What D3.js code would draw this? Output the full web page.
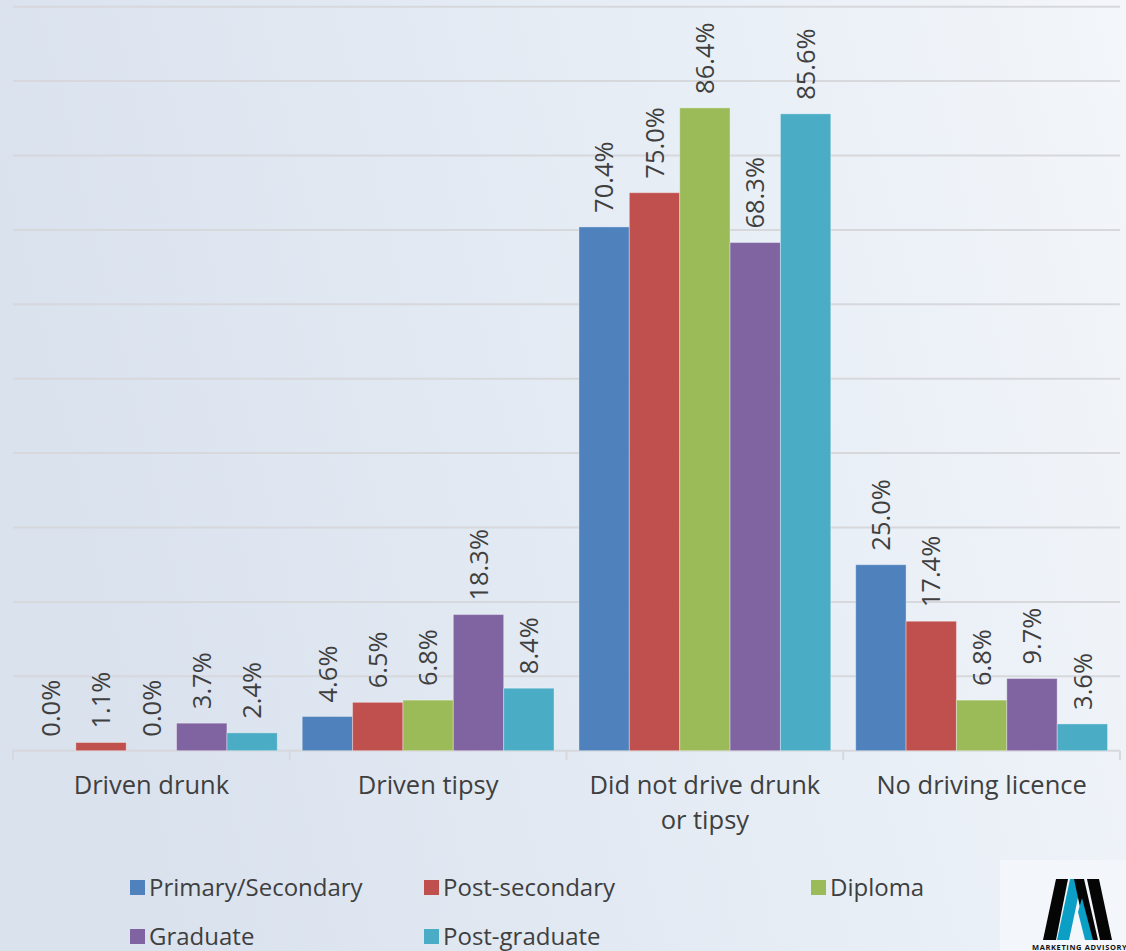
<!DOCTYPE html>
<html>
<head>
<meta charset="utf-8">
<script src="https://cdn.jsdelivr.net/npm/d3@7"></script>
<style>
  html, body { margin: 0; padding: 0; }
  body { width: 1126px; height: 951px; overflow: hidden; }
  text { font-family: "Open Sans", "DejaVu Sans", sans-serif; fill: #3f3f3f; }
</style>
</head>
<body>
<svg id="chart" width="1126" height="951"></svg>
<script>
const categories = ["Driven drunk", "Driven tipsy", "Did not drive drunk|or tipsy", "No driving licence"];
const seriesNames = ["Primary/Secondary", "Post-secondary", "Diploma", "Graduate", "Post-graduate"];
const seriesColors = ["#4f81bd", "#c0504d", "#9bbb59", "#8064a2", "#4bacc6"];
const primarySecondary = [0.0, 4.6, 70.4, 25.0];
const postSecondary = [1.1, 6.5, 75.0, 17.4];
const diploma = [0.0, 6.8, 86.4, 6.8];
const graduate = [3.7, 18.3, 68.3, 9.7];
const postGraduate = [2.4, 8.4, 85.6, 3.6];
const yTicks = [0, 10, 20, 30, 40, 50, 60, 70, 80, 90, 100];

const seriesValues = [primarySecondary, postSecondary, diploma, graduate, postGraduate];

const svg = d3.select("#chart");
const W = 1126, H = 951;

// background gradient
const defs = svg.append("defs");
const grad = defs.append("linearGradient").attr("id", "bg")
  .attr("x1", "0").attr("y1", "0.2").attr("x2", "1").attr("y2", "0");
grad.append("stop").attr("offset", "0").attr("stop-color", "#dae2ee");
grad.append("stop").attr("offset", "0.55").attr("stop-color", "#e6edf5");
grad.append("stop").attr("offset", "1").attr("stop-color", "#f3f6fa");
svg.append("rect").attr("width", W).attr("height", H).attr("fill", "url(#bg)");

const plotLeft = 13, plotRight = 1120, yTop = 6.7, yBase = 750.7;

const y = d3.scaleLinear().domain([0, 100]).range([yBase, yTop]);
const x0 = d3.scaleBand().domain(categories).range([plotLeft, plotRight]).padding(0);
const x1 = d3.scaleBand().domain(seriesNames)
  .range([x0.bandwidth() * 0.045, x0.bandwidth() * 0.955]).padding(0);

// gridlines
svg.append("g").selectAll("line").data(yTicks.filter(d => d > 0)).join("line")
  .attr("x1", plotLeft).attr("x2", plotRight)
  .attr("y1", d => y(d)).attr("y2", d => y(d))
  .attr("stroke", "#d6d8dc").attr("stroke-width", 2);

// x axis line and ticks
const axisG = svg.append("g");
axisG.append("line").attr("x1", plotLeft).attr("x2", plotRight)
  .attr("y1", yBase).attr("y2", yBase).attr("stroke", "#d6d8dc").attr("stroke-width", 2);
const tickXs = categories.map(c => x0(c)).concat([x0(categories[categories.length - 1]) + x0.bandwidth()]);
axisG.selectAll("line.tick").data(tickXs).join("line").attr("class", "tick")
  .attr("x1", d => d).attr("x2", d => d)
  .attr("y1", yBase).attr("y2", yBase + 9)
  .attr("stroke", "#d6d8dc").attr("stroke-width", 2);

// bars
const groups = svg.append("g").selectAll("g").data(categories).join("g")
  .attr("transform", c => `translate(${x0(c)},0)`);

groups.each(function(c, ci) {
  const g = d3.select(this);
  const data = seriesNames.map((s, si) => ({ s, si, v: seriesValues[si][ci] }));
  g.selectAll("rect").data(data).join("rect")
    .attr("x", d => x1(d.s))
    .attr("y", d => y(d.v))
    .attr("width", x1.bandwidth())
    .attr("height", d => yBase - y(d.v))
    .attr("fill", d => seriesColors[d.si])
    .attr("stroke", d => d.v > 0 ? "rgba(255,255,255,0.35)" : "none")
    .attr("stroke-width", 1);
  g.selectAll("text").data(data).join("text")
    .attr("transform", d => `translate(${x1(d.s) + x1.bandwidth() / 2},${y(d.v) - 14}) rotate(-90)`)
    .attr("dy", "0.36em")
    .attr("text-anchor", "start")
    .attr("font-size", 25.5)
    .text(d => d.v.toFixed(1) + "%");
});

// category labels
const catG = svg.append("g");
categories.forEach(c => {
  const parts = c.split("|");
  parts.forEach((p, i) => {
    catG.append("text")
      .attr("x", x0(c) + x0.bandwidth() / 2)
      .attr("y", 794 + i * 35)
      .attr("text-anchor", "middle")
      .attr("font-size", 25.5)
      .text(p);
  });
});

// legend
const legendPos = [[130, 880], [424, 880], [811, 880], [130, 929], [424, 929]];
const leg = svg.append("g").selectAll("g").data(seriesNames).join("g")
  .attr("transform", (d, i) => `translate(${legendPos[i][0]},${legendPos[i][1]})`);
leg.append("rect").attr("width", 15).attr("height", 15)
  .attr("fill", (d, i) => seriesColors[i]);
leg.append("text").attr("x", 19).attr("y", 15.5).attr("font-size", 24).text(d => d);

// logo
const logo = svg.append("g");
logo.append("rect").attr("x", 1000).attr("y", 860).attr("width", 126).attr("height", 91).attr("fill", "#f3f6fa");
logo.append("polygon").attr("points", "1043,940 1056,940 1068,879 1056,879").attr("fill", "#050505");
logo.append("polygon").attr("points", "1057,940 1069,940 1082,879 1070,879").attr("fill", "#0b9fc6");
logo.append("polygon").attr("points", "1074,879 1084,879 1098,940 1087,940").attr("fill", "#050505");
logo.append("polygon").attr("points", "1078,912 1082,898 1093,940 1085,940").attr("fill", "#0b9fc6");
logo.append("polygon").attr("points", "1087,879 1099,879 1112,940 1100,940").attr("fill", "#050505");
logo.append("text").attr("x", 1032).attr("y", 950).attr("font-size", 7.5).attr("font-weight", "bold")
  .style("fill", "#111").attr("letter-spacing", 0.6).text("MARKETING ADVISORY");
</script>
</body>
</html>
